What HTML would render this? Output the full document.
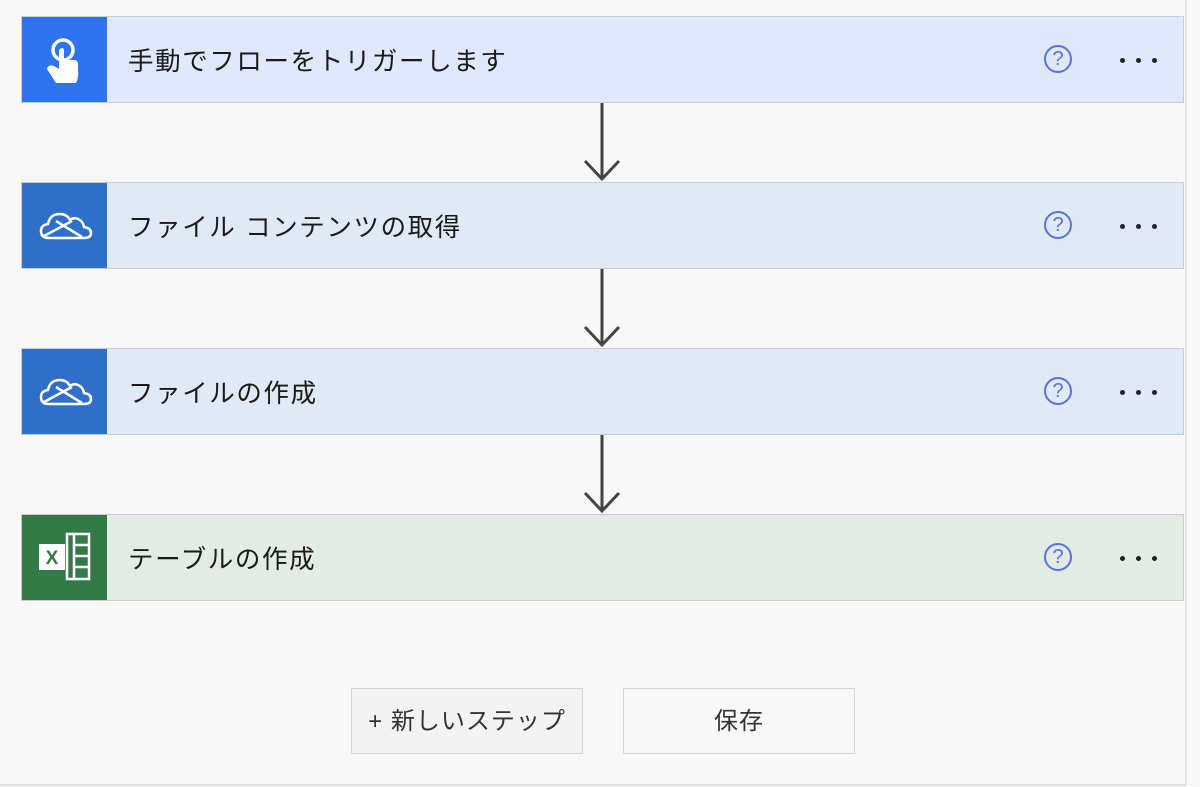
<!DOCTYPE html>
<html><head><meta charset="utf-8"><style>
html,body{margin:0;padding:0;}
body{width:1200px;height:787px;background:#f8f8f8;position:relative;overflow:hidden;font-family:"Liberation Sans","Noto Sans CJK JP",sans-serif;}
.frame{position:absolute;left:0;top:0;width:1185px;height:784px;border-right:2px solid #e6e6e6;border-bottom:2px solid #e0e0e0;}
.card{position:absolute;left:21px;width:1161px;height:85px;border:1px solid #c9ccd2;box-sizing:content-box;}
.ic{position:absolute;left:0;top:0;width:85px;height:85px;}
.t{position:absolute;left:106px;top:3px;line-height:85px;font-size:25.5px;letter-spacing:1.6px;color:#1a1a1a;}
.q{position:absolute;left:1022px;top:28px;width:28px;height:28px;border:2px solid #5a72e0;border-radius:50%;box-sizing:border-box;color:#5a72e0;font-size:20px;line-height:24px;text-align:center;}
.dots{position:absolute;left:1098px;top:41px;}
.dots i{position:absolute;top:0;width:5px;height:5px;border-radius:50%;background:#222;}
.arrow{position:absolute;left:582px;width:40px;}
.btn{position:absolute;top:688px;height:66px;width:232px;border:1px solid #d4d4d4;box-sizing:border-box;text-align:center;line-height:66px;font-size:24px;letter-spacing:1px;color:#333;}
</style></head><body>
<div class="frame"></div>

<div class="card" style="top:16px;background:#dfe8fd;">
 <div class="ic" style="background:#2f74ee;">
  <svg width="85" height="85" viewBox="0 0 85 85"><circle cx="41" cy="33" r="10" fill="none" stroke="#fff" stroke-width="3.5"/><path d="M37 33 v19 l-5 -3 q-6 -2 -7 3 l9 14 h20 q3 -6 2 -13 v-7 q-1 -3 -4 -3 h-10 v-10 q-1 -4 -5 0z" fill="#fff"/></svg>
 </div>
 <div class="t">手動でフローをトリガーします</div>
 <div class="q">?</div>
 <div class="dots"><i style="left:0"></i><i style="left:16px"></i><i style="left:32px"></i></div>
</div>

<div class="card" style="top:182px;background:#e0e9f6;">
 <div class="ic" style="background:#2f6fca;">
  <svg width="85" height="85" viewBox="0 0 85 85"><path d="M27 55 q-8 0 -8 -7 q0 -6 7 -7 q2 -10 12 -10 q7 0 10 6 q4 -3 8 -1 q5 2 6 8 q7 1 7 6 q0 5 -7 5z" fill="none" stroke="#fff" stroke-width="2.5"/><path d="M22 53 L50 38 M34 38 L60 54" stroke="#fff" stroke-width="2.5" fill="none"/></svg>
 </div>
 <div class="t">ファイル コンテンツの取得</div>
 <div class="q">?</div>
 <div class="dots"><i style="left:0"></i><i style="left:16px"></i><i style="left:32px"></i></div>
</div>

<div class="card" style="top:348px;background:#e0e9f6;">
 <div class="ic" style="background:#2f6fca;">
  <svg width="85" height="85" viewBox="0 0 85 85"><path d="M27 55 q-8 0 -8 -7 q0 -6 7 -7 q2 -10 12 -10 q7 0 10 6 q4 -3 8 -1 q5 2 6 8 q7 1 7 6 q0 5 -7 5z" fill="none" stroke="#fff" stroke-width="2.5"/><path d="M22 53 L50 38 M34 38 L60 54" stroke="#fff" stroke-width="2.5" fill="none"/></svg>
 </div>
 <div class="t">ファイルの作成</div>
 <div class="q">?</div>
 <div class="dots"><i style="left:0"></i><i style="left:16px"></i><i style="left:32px"></i></div>
</div>

<div class="card" style="top:514px;background:#e2ebe4;">
 <div class="ic" style="background:#347a48;">
  <svg width="85" height="85" viewBox="0 0 85 85"><rect x="45" y="19" width="22" height="45" fill="none" stroke="#fff" stroke-width="2.5"/><path d="M52 19 v45 M52 30 h15 M52 41 h15 M52 52 h15" stroke="#fff" stroke-width="2.5"/><rect x="17" y="29" width="26" height="26" fill="#fff"/><text x="30" y="49" font-size="19" font-weight="bold" font-family="Liberation Sans" text-anchor="middle" fill="#347a48">X</text></svg>
 </div>
 <div class="t">テーブルの作成</div>
 <div class="q">?</div>
 <div class="dots"><i style="left:0"></i><i style="left:16px"></i><i style="left:32px"></i></div>
</div>

<svg class="arrow" style="top:103px" width="40" height="79"><path d="M20 0 V76 M3 58 L20 76 L37 58" stroke="#444" stroke-width="3" fill="none"/></svg>
<svg class="arrow" style="top:269px" width="40" height="79"><path d="M20 0 V76 M3 58 L20 76 L37 58" stroke="#444" stroke-width="3" fill="none"/></svg>
<svg class="arrow" style="top:435px" width="40" height="79"><path d="M20 0 V76 M3 58 L20 76 L37 58" stroke="#444" stroke-width="3" fill="none"/></svg>

<div class="btn" style="left:351px;background:#f3f3f3;">+ 新しいステップ</div>
<div class="btn" style="left:623px;background:#f8f8f8;">保存</div>
</body></html>
